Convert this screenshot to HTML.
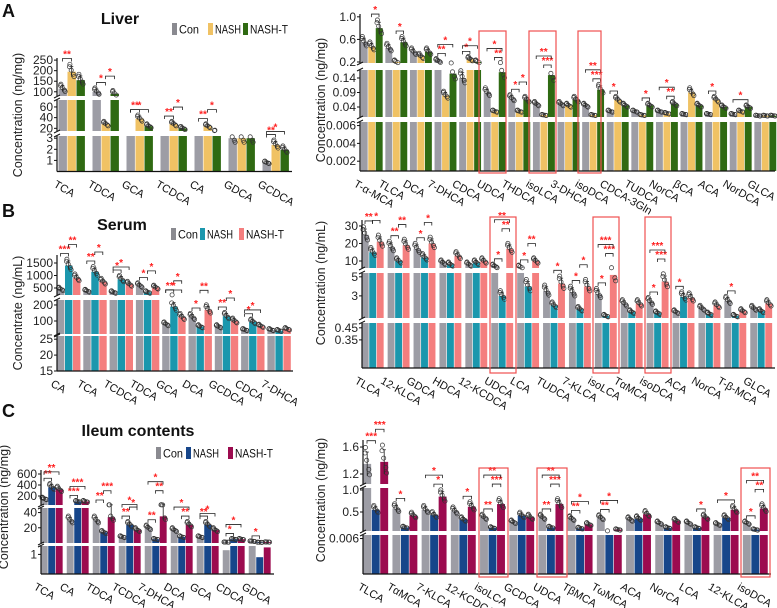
<!DOCTYPE html>
<html><head><meta charset="utf-8">
<style>
html,body{margin:0;padding:0;background:#fff;}
svg{display:block;font-family:"Liberation Sans",Arial,sans-serif;}
</style></head>
<body>
<svg id="fig" width="777" height="608" viewBox="0 0 777 608" xmlns="http://www.w3.org/2000/svg"></svg>
<script>
// ---------- DATA ----------
const aLCats = ["TCA","TDCA","GCA","TCDCA","CA","GDCA","GCDCA"];
const aLCon   = [115,100,10,12,8,3.0,0.8];
const aLNash  = [195,28,38,28,24,3.0,2.4];
const aLNashT = [155,90,24,20,14,3.0,1.95];
const aLTicks = [["1","2","3"],["20","40","60"],["100","150","200","250"]];

const aRCats = ["T-α-MCA","TLCA","DCA","7-DHCA","CDCA","UDCA","THDCA","isoLCA","3-DHCA","isoDCA","CDCA-3Gln","TUDCA","NorCA","βCA","ACA","NorDCA","GLCA"];
const aRCon   = [0.55,0.45,0.38,0.22,0.14,0.09,0.07,0.05,0.05,0.045,0.025,0.025,0.025,0.015,0.015,0.015,0.01];
const aRNash  = [0.47,0.2,0.3,0.08,0.25,0.025,0.025,0.012,0.045,0.012,0.065,0.012,0.018,0.09,0.065,0.025,0.01];
const aRNashT = [0.8,0.55,0.38,0.155,0.2,0.16,0.065,0.15,0.065,0.1,0.045,0.045,0.05,0.045,0.04,0.04,0.01];
const aRTicks = [["0.002","0.004","0.006"],["0.04","0.09","0.14"],["0.2","0.6","1.0"]];

const bLCats = ["CA","TCA","TCDCA","TDCA","GCA","DCA","GCDCA","CDCA","7-DHCA"];
const bLCon   = [450,380,330,600,80,125,65,45,45];
const bLNash  = [1400,1150,850,330,190,65,130,95,40];
const bLNashT = [900,750,650,520,125,170,100,68,50];
const bLTicks = [["15","20","25"],["100","200"],["500","1000","1500"]];

const bRCats = ["TLCA","12-KLCA","GDCA","HDCA","12-KCDCA","UDCA","LCA","TUDCA","7-KLCA","isoLCA","TαMCA","isoDCA","ACA","NorCA","T-β-MCA","GLCA"];
const bRCon   = [25,18,17,9,8,7,6.5,3.5,3.4,3.2,2.2,2.4,1.3,1.7,2.5,1.7];
const bRNash  = [15,10,12,8,9,3.0,4,2,1.6,0.9,1.3,1.2,2.9,1.1,0.9,1.4];
const bRNashT = [21,19,20,13,10,17,10,4.3,4,5.2,2.2,4.5,2.8,2.0,1.4,2.2];
const bRTicks = [["0.35","0.45"],["3","5"],["10","20","30"]];

const cLCats = ["TCA","CA","TDCA","TCDCA","7-DHCA","DCA","GCA","CDCA","GDCA"];
const cLCon   = [150,30,30,8,20,17,8,1.15,2.3];
const cLNash  = [360,100,14,24,5,8,24,5,0.9];
const cLNashT = [320,100,34,17,35,24,17,5,1.25];
const cLTicks = [["1"],["20","40"],["200","400","600"]];

const cRCats = ["TLCA","TαMCA","7-KLCA","12-KCDCA","isoLCA","GCDCA","UDCA","TβMCA","TωMCA","ACA","NorCA","LCA","12-KLCA","isoDCA"];
const cRCon   = [1.35,0.58,0.55,0.52,0.38,0.27,0.38,0.35,0.37,0.33,0.25,0.25,0.22,0.25];
const cRNash  = [0.55,0.15,0.43,0.33,0.14,0.42,0.15,0.13,0.06,0.35,0.14,0.14,0.37,0.1];
const cRNashT = [1.38,0.42,0.85,0.62,0.68,0.38,0.68,0.22,0.1,0.45,0.3,0.38,0.55,0.58];
const cRTicks = [["0.006"],["0.5","1.0"],["1.2","1.6"]];

// significance brackets: [group index, from series, to series, stars]
const aLSig = [[0,0,1,"**"],[1,0,1,"*"],[1,1,2,"*"],[2,0,1,"**"],[2,0,2,"*"],[3,0,1,"**"],[3,1,2,"*"],[4,0,1,"**"],[4,1,2,"*"],[6,0,1,"**"],[6,0,2,"*"]];
const aRSig = [[0,1,2,"*"],[1,1,2,"*"],[3,0,1,"**"],[3,0,2,"*"],[4,0,1,"*"],[4,0,2,"*"],[5,1,2,"**"],[5,0,2,"*"],[6,0,1,"*"],[6,1,2,"*"],[7,1,2,"***"],[7,0,2,"**"],[9,1,2,"***"],[9,0,2,"**"],[10,0,1,"*"],[11,1,2,"*"],[12,1,2,"**"],[12,0,2,"*"],[14,0,1,"*"],[15,0,2,"*"]];
const bLSig = [[0,0,1,"***"],[0,1,2,"**"],[1,0,1,"**"],[1,1,2,"*"],[2,0,1,"*"],[2,0,2,"*"],[3,0,1,"*"],[3,1,2,"*"],[4,0,1,"**"],[4,1,2,"*"],[4,0,2,"*"],[5,0,1,"*"],[5,1,2,"**"],[6,0,1,"**"],[6,1,2,"*"],[7,0,1,"*"],[7,0,2,"*"]];
const bRSig = [[0,0,1,"**"],[0,1,2,"*"],[1,0,1,"**"],[1,1,2,"**"],[2,0,1,"*"],[2,1,2,"*"],[5,0,1,"*"],[5,1,2,"**"],[5,0,2,"**"],[6,0,1,"*"],[6,1,2,"**"],[7,1,2,"*"],[8,0,1,"*"],[8,1,2,"*"],[9,0,1,"*"],[9,1,2,"***"],[9,0,2,"***"],[11,0,1,"*"],[11,1,2,"***"],[11,0,2,"***"],[12,0,1,"*"],[14,0,1,"*"]];
const cLSig = [[0,0,1,"**"],[0,0,2,"**"],[1,0,1,"***"],[1,0,2,"***"],[2,0,1,"**"],[2,1,2,"***"],[3,0,1,"**"],[3,1,2,"*"],[3,0,2,"*"],[4,0,1,"**"],[4,1,2,"**"],[4,0,2,"*"],[5,1,2,"**"],[5,0,2,"*"],[6,0,1,"**"],[6,0,2,"*"],[7,0,1,"*"],[7,0,2,"*"],[8,0,1,"*"]];
const cRSig = [[0,0,1,"***"],[0,1,2,"***"],[1,0,1,"*"],[2,1,2,"*"],[2,0,2,"*"],[3,1,2,"*"],[4,0,1,"**"],[4,1,2,"***"],[4,0,2,"**"],[6,0,1,"**"],[6,1,2,"***"],[6,0,2,"**"],[7,0,1,"**"],[7,0,2,"*"],[8,0,1,"**"],[8,0,2,"*"],[11,1,2,"*"],[12,0,2,"*"],[13,0,1,"*"],[13,1,2,"**"],[13,0,2,"**"]];

// ---------- RENDER ----------
const NS = "http://www.w3.org/2000/svg";
const svg = document.getElementById('fig');
function el(tag, attrs, parent){
  const e = document.createElementNS(NS, tag);
  for (const k in attrs) e.setAttribute(k, attrs[k]);
  (parent||svg).appendChild(e);
  return e;
}
function txt(s, attrs, parent){ const t = el('text', attrs, parent); t.textContent = s; return t; }

const panels = [
 {id:'a-left', cats:aLCats, series:[aLCon,aLNash,aLNashT], ticks:aLTicks, sig:aLSig, colors:['#9d9da5','#f0c264','#2f6a12'],
  ax:57, c0:72, step:34, bw:9, xEnd:292,
  segs:[{y0:171.5,y1:136,v0:0,v1:3.2},{y0:131,y1:100,v0:15,v1:73},{y0:96,y1:58,v0:80,v1:260}],
  ytitle:'Concentration (ng/mg)', ytx:22, yty:115},
 {id:'a-right', cats:aRCats, series:[aRCon,aRNash,aRNashT], ticks:aRTicks, sig:aRSig, colors:['#9d9da5','#f0c264','#2f6a12'],
  ax:360, c0:372, step:24.6, bw:7.5, xEnd:775,
  segs:[{y0:171,y1:122,v0:0.0009,v1:0.0064},{y0:117,y1:70,v0:0.0055,v1:0.1676},{y0:63,y1:14,v0:0.182,v1:1.05}],
  ytitle:'Concentration (ng/mg)', ytx:325, yty:100},
 {id:'b-left', cats:bLCats, series:[bLCon,bLNash,bLNashT], ticks:bLTicks, sig:bLSig, colors:['#9d9da5','#1b97ad','#f47e7e'],
  ax:57, c0:69, step:26.3, bw:8, xEnd:293,
  segs:[{y0:371,y1:336,v0:15,v1:26},{y0:334,y1:300,v0:19,v1:231},{y0:295,y1:255,v0:220,v1:1820}],
  ytitle:'Concentrate (ng/mL)', ytx:22, yty:313},
 {id:'b-right', cats:bRCats, series:[bRCon,bRNash,bRNashT], ticks:bRTicks, sig:bRSig, colors:['#9d9da5','#1b97ad','#f47e7e'],
  ax:362, c0:373, step:25.9, bw:7.5, xEnd:775,
  segs:[{y0:368,y1:323,v0:0.117,v1:0.49},{y0:318,y1:273,v0:0.68,v1:5.4},{y0:268,y1:220,v0:6,v1:33.4}],
  ytitle:'Concentration (ng/mL)', ytx:325, yty:283},
 {id:'c-left', cats:cLCats, series:[cLCon,cLNash,cLNashT], ticks:cLTicks, sig:cLSig, colors:['#9d9da5','#17468a','#9c0b4f'],
  ax:41, c0:52, step:26, bw:7.5, xEnd:274,
  segs:[{y0:574,y1:546,v0:0.3,v1:1.3},{y0:543,y1:508,v0:0,v1:46},{y0:505,y1:470,v0:36,v1:673}],
  ytitle:'Concentration (ng/mg)', ytx:8, yty:507},
 {id:'c-right', cats:cRCats, series:[cRCon,cRNash,cRNashT], ticks:cRTicks, sig:cRSig, colors:['#9d9da5','#17468a','#9c0b4f'],
  ax:363, c0:376, step:29.2, bw:8.5, xEnd:771,
  segs:[{y0:574,y1:535,v0:0,v1:0.0066},{y0:531,y1:488,v0:0.068,v1:1.045},{y0:484,y1:440,v0:1.052,v1:1.704}],
  ytitle:'Concentration (ng/mg)', ytx:325, yty:500}
];

function ymap(seg, v){ return seg.y0 - (v - seg.v0)/(seg.v1 - seg.v0)*(seg.y0 - seg.y1); }
function locate(p, v){
  for (let i=p.segs.length-1;i>=0;i--){ const s=p.segs[i]; if (v>=s.v0 && v<=s.v1) return ymap(s,v); }
  if (v > p.segs[p.segs.length-1].v1) return p.segs[p.segs.length-1].y1;
  return null;
}
function topY(p, v){
  const y = locate(p, v);
  if (y!==null) return y;
  // value in a gap: top of highest segment below it
  let best = p.segs[0].y0;
  p.segs.forEach(s=>{ if (v > s.v1) best = s.y1; });
  return best;
}
const dotF = [1.12,0.88,1.04,0.94,1.18];
const dotX = [-2.2,2.4,-0.5,1.6,-1.8];

panels.forEach(p=>{
  const g = el('g',{});
  
  
  const base = p.segs[0].y0;
  const barX = (i,k)=> p.c0 + i*p.step + (k-1)*p.bw;
  p.cats.forEach((cat,i)=>{
    const cx = p.c0 + i*p.step;
    const gg = el('g',{},g);
    
    
    p.series.forEach((ser,k)=>{
      const v = ser[i];
      const bx = barX(i,k) - p.bw/2;
      p.segs.forEach(s=>{
        if (v > s.v0){
          const top = ymap(s, Math.min(v, s.v1));
          const r = el('rect',{x:bx.toFixed(2), y:top.toFixed(2), width:p.bw-0.6, height:(s.y0-top).toFixed(2), fill:p.colors[k]}, gg);
          
          
        }
      });
      const mx = bx + (p.bw-0.6)/2;
      const yh = locate(p, v*1.13), yl = locate(p, v*0.87);
      if (yh!==null && yl!==null && Math.abs(yl-yh) < 30){
        el('line',{x1:mx,x2:mx,y1:yh,y2:yl,stroke:'#222','stroke-width':0.8},gg);
        el('line',{x1:mx-1.6,x2:mx+1.6,y1:yh,y2:yh,stroke:'#222','stroke-width':0.8},gg);
      }
      dotF.forEach((f,j)=>{
        const y = locate(p, v*f);
        if (y!==null) el('circle',{cx:mx+dotX[j],cy:y,r:2.1,fill:'none',stroke:'#333','stroke-width':0.7},gg);
      });
    });
    const lab = txt(cat,{x:cx-15,y:base+16,'font-size':11,transform:`rotate(30 ${cx-15} ${base+8})`,fill:'#111'},g);
    
    
  });
  // significance brackets
  const stackCount = {};
  p.sig.forEach(sg=>{
    const [i,a,b,stars] = sg;
    const hi = Math.max(...[a,b].map(k=>topY(p, p.series[k][i]*1.2)));
    const vals = [a,b].map(k=>topY(p, p.series[k][i]*1.2));
    const n = stackCount[i] || 0; stackCount[i] = n+1;
    const y = Math.min(...vals) - 5 - n*9;
    const x1 = barX(i,a) - 0.5, x2 = barX(i,b) - 0.5;
    const bg = el('g',{},g);
    
    
    el('path',{d:`M${x1} ${y+3}V${y}H${x2}V${y+3}`,fill:'none',stroke:'#222','stroke-width':0.8},bg);
    txt(stars,{x:(x1+x2)/2,y:y-1,'font-size':10,'font-weight':'bold','text-anchor':'middle',fill:'#ff2020'},bg);
  });
  // axis
  p.segs.forEach((s,si)=>{
    el('line',{x1:p.ax,x2:p.ax,y1:s.y1,y2:s.y0,stroke:'#111','stroke-width':1.2},g);
    if (si>0) el('line',{x1:p.ax-3,x2:p.ax+3,y1:s.y0+2,y2:s.y0-1,stroke:'#111','stroke-width':1},g);
    if (si<p.segs.length-1) el('line',{x1:p.ax-3,x2:p.ax+3,y1:s.y1+1,y2:s.y1-2,stroke:'#111','stroke-width':1},g);
    p.ticks[si].forEach(t=>{
      const y = ymap(s, parseFloat(t));
      el('line',{x1:p.ax-3,x2:p.ax,y1:y,y2:y,stroke:'#111','stroke-width':1},g);
      const tl = txt(t,{x:p.ax-4,y:y+4,'font-size':12,'text-anchor':'end',fill:'#222'},g);
      
      
    });
  });
  el('line',{x1:p.ax,x2:p.xEnd,y1:base,y2:base,stroke:'#111','stroke-width':1.2},g);
  const yt = txt(p.ytitle,{x:p.ytx,y:p.yty,'font-size':12.5,'text-anchor':'middle',transform:`rotate(-90 ${p.ytx} ${p.yty})`,fill:'#222'},g);
  
  
});

// highlight boxes
const boxes = [[479,31,27,142],[529,31,27,142],[578,31,23,142],
               [490,217,26,156],[593,217,26,156],[645,217,26,156],
               [479,468,29,109],[537,468,30,109],[741,468,29,109]];
boxes.forEach(b=>{
  const r = el('rect',{x:b[0],y:b[1],width:b[2],height:b[3],fill:'none',stroke:'#f05050','stroke-width':1.2});
  
  
});

const titles = [["Liver",120,24],["Serum",122,230],["Ileum contents",138,436]];
titles.forEach(t=>{
  const e = txt(t[0],{x:t[1],y:t[2],'font-size':16,'font-weight':'bold','text-anchor':'middle',fill:'#111'});
  
  
});
[["A",2,17],["B",2,217],["C",2,417]].forEach(t=>{
  const e = txt(t[0],{x:t[1],y:t[2],'font-size':18,'font-weight':'bold',fill:'#111'});
  
  
});
const legends = [
 {y:29, xs:[172,208,243], colors:['#8a8a90','#f0c264','#2f6a12']},
 {y:234, xs:[171,200,239], colors:['#8a8a90','#1b97ad','#f47e7e']},
 {y:453, xs:[156,186,228], colors:['#8a8a90','#17468a','#9c0b4f']}
];
const legLabels = ["Con","NASH","NASH-T"];
const legLens = [20,26,38];
legends.forEach(L=>{
  L.xs.forEach((x,i)=>{
    const g = el('g',{});
    
    
    el('rect',{x:x,y:L.y-6,width:5,height:12,fill:L.colors[i]},g);
    const maxLen = (i<2 ? L.xs[i+1]-x-9 : legLens[i]);
    txt(legLabels[i],{x:x+7,y:L.y+4.5,'font-size':12,textLength:Math.min(legLens[i],maxLen),lengthAdjust:'spacingAndGlyphs',fill:'#111'},g);
  });
});
</script>
</body></html>
